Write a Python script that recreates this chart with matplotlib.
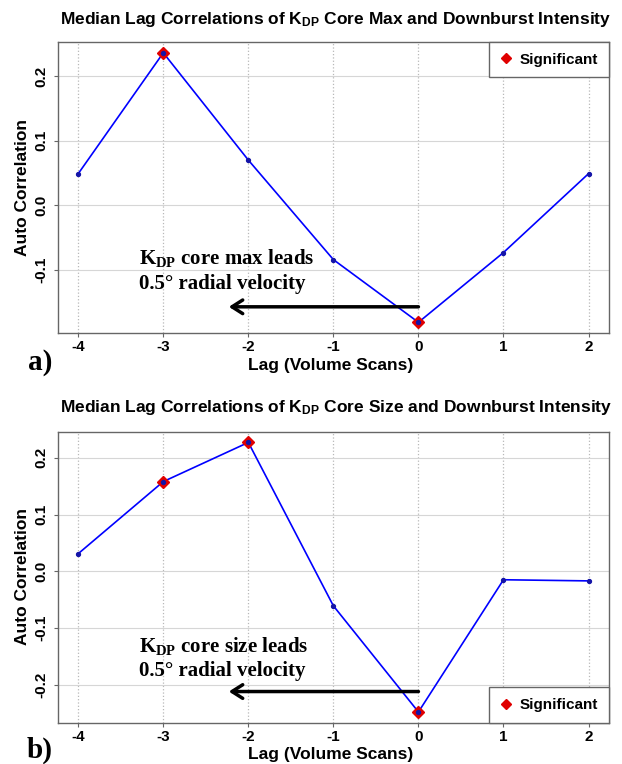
import matplotlib
matplotlib.use("Agg")
import matplotlib.pyplot as plt
from matplotlib.lines import Line2D

plt.rcParams['font.family'] = ['Liberation Sans', 'DejaVu Sans']
plt.rcParams['font.weight'] = 'bold'
plt.rcParams['mathtext.fontset'] = 'custom'
plt.rcParams['mathtext.rm'] = 'Liberation Sans:bold'
plt.rcParams['mathtext.bf'] = 'Liberation Sans:bold'
plt.rcParams['mathtext.it'] = 'Liberation Serif:bold'

# data
lags = [-4, -3, -2, -1, 0, 1, 2]
corr_max = [0.049, 0.236, 0.070, -0.084, -0.181, -0.073, 0.049]
corr_size = [0.031, 0.158, 0.227, -0.061, -0.248, -0.015, -0.017]
sig_max = [-3, 0]
sig_size = [-3, -2, 0]

titles = [r"Median Lag Correlations of K$_{\mathrm{DP}}$ Core Max and Downburst Intensity",
          r"Median Lag Correlations of K$_{\mathrm{DP}}$ Core Size and Downburst Intensity"]
notes = [[r"K$_{\mathit{DP}}$ core max leads", "0.5° radial velocity"],
         [r"K$_{\mathit{DP}}$ core size leads", "0.5° radial velocity"]]
panel_labels = ["a)", "b)"]
yticks_a = [-0.1, 0.0, 0.1, 0.2]
yticks_b = [-0.2, -0.1, 0.0, 0.1, 0.2]

fig = plt.figure(figsize=(6.22, 7.64), dpi=100)
ax_a = fig.add_axes([0.093, 0.564, 0.886, 0.381])
ax_b = fig.add_axes([0.093, 0.054, 0.886, 0.381])

setups = [
    (ax_a, corr_max, sig_max, yticks_a, 'upper right', [-0.082, -0.121], -0.157, 0.975, 0.525, 0.521, 0.754),
    (ax_b, corr_size, sig_size, yticks_b, 'lower right', [-0.132, -0.175], -0.212, 0.467, 0.018, 0.012, 0.245),
]

for i, (ax, vals, sig, yt, legloc, note_y, arrow_y, title_y, lab_y, xl_y, yl_y) in enumerate(setups):
    ax.plot(lags, vals, color='blue', lw=1.2, zorder=3)
    sig_vals = [vals[lags.index(s)] for s in sig]
    ax.plot(sig, sig_vals, ls='none', marker='D', color='#e00000', ms=6, zorder=4)
    ax.plot(lags, vals, ls='none', marker='o', color='#1414a8', ms=2.8, zorder=5)

    lo, hi = min(vals), max(vals)
    pad = (hi - lo) * 0.04
    ax.set_ylim(lo - pad, hi + pad)
    ax.set_xlim(-4.24, 2.24)
    ax.set_xticks(lags)
    ax.set_yticks(yt)
    ax.set_xticklabels([str(l) for l in lags])
    ax.set_yticklabels(["%.1f" % v for v in yt])

    for x in lags:
        ax.axvline(x, color='#b8b8b8', ls=':', lw=0.9, zorder=1)
    for y in yt:
        ax.axhline(y, color='#d6d6d6', ls='-', lw=0.8, zorder=1)

    for s in ax.spines.values():
        s.set_color('#666666')
        s.set_linewidth(1.0)
    ax.tick_params(axis='x', length=3, pad=2, labelsize=11, color='#666666')
    ax.tick_params(axis='y', length=3, pad=4, labelsize=11, color='#666666', labelrotation=90)
    plt.setp(ax.get_yticklabels(), va='center')

    ax.text(-3.29, note_y[0], notes[i][0], family='Liberation Serif', fontsize=15,
            weight='bold', ha='left', va='center')
    ax.text(-3.29, note_y[1], notes[i][1], family='Liberation Serif', fontsize=15,
            weight='bold', ha='left', va='center')
    ax.annotate('', xy=(-2.23, arrow_y), xytext=(0, arrow_y),
                arrowprops=dict(arrowstyle='->,head_length=0.55,head_width=0.35',
                                lw=2.5, color='black', shrinkA=0, shrinkB=0,
                                mutation_scale=14))

    handle = Line2D([], [], marker='D', color='#e00000', ls='none', ms=5)
    leg = ax.legend([handle], ['Significant'], loc=legloc, borderaxespad=0,
                    fancybox=False, edgecolor='#666666', framealpha=1,
                    prop={'weight': 'bold', 'size': 11}, handlelength=0.9,
                    handletextpad=0.45, borderpad=0.7)
    leg.get_frame().set_linewidth(1.0)

    fig.text(0.54, title_y, titles[i], fontsize=12.5, weight='bold', ha='center', va='center')
    fig.text(0.532, xl_y, "Lag (Volume Scans)", fontsize=12.5, weight='bold', ha='center', va='center')
    fig.text(0.036, yl_y, "Auto Correlation", fontsize=12.5, weight='bold', ha='center',
             va='center', rotation=90)
    fig.text(0.064, lab_y, panel_labels[i], family='Liberation Serif', fontsize=21,
             weight='bold', ha='center', va='center')

fig.savefig("out.png", dpi=100)
